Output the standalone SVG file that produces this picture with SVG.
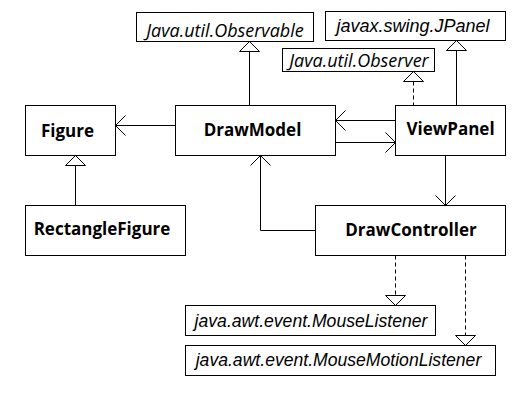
<svg xmlns="http://www.w3.org/2000/svg" width="531" height="411" viewBox="0 0 531 411">
<style>
.box{fill:#fff;stroke:#000;stroke-width:1}
.cls{font-family:"Open Sans","Liberation Sans",sans-serif;font-weight:bold;font-size:17px;text-anchor:middle;fill:#000}
.ifc{font-family:"Open Sans","Liberation Sans",sans-serif;font-style:italic;font-size:18px;text-anchor:middle;fill:#000}
.ifa{font-family:"Liberation Sans",Arial,sans-serif;font-style:italic;text-anchor:middle;fill:#000}
.ln{fill:none;stroke:#000;stroke-width:1}
.dash{fill:none;stroke:#000;stroke-width:1;stroke-dasharray:4,3}
.tri{fill:#fff;stroke:#000;stroke-width:1}
</style>
<rect width="531" height="411" fill="#fff"/>
<g id="connectors">
  <line class="ln" x1="249.5" y1="51.5" x2="249.5" y2="105.5"/>
  <polygon class="tri" points="249.5,41.5 239.5,51.5 259.5,51.5"/>
  <line class="ln" x1="456.5" y1="50.5" x2="456.5" y2="105.5"/>
  <polygon class="tri" points="456.5,40.5 446.5,50.5 466.5,50.5"/>
  <line class="dash" x1="413.5" y1="81.5" x2="413.5" y2="105.5"/>
  <polygon class="tri" points="413.5,71.5 403.5,81.5 423.5,81.5"/>
  <line class="ln" x1="75.5" y1="165.5" x2="75.5" y2="205.5"/>
  <polygon class="tri" points="75.5,155.5 65.5,165.5 85.5,165.5"/>
  <line class="dash" x1="395.5" y1="255.5" x2="395.5" y2="295.5"/>
  <polygon class="tri" points="395.5,305.5 385.5,295.5 405.5,295.5"/>
  <line class="dash" x1="465.5" y1="255.5" x2="465.5" y2="335.5"/>
  <polygon class="tri" points="465.5,345.5 455.5,335.5 475.5,335.5"/>
  <line class="ln" x1="175.5" y1="125.5" x2="115.5" y2="125.5"/>
  <polyline class="ln" points="125.5,115.5 115.5,125.5 125.5,135.5"/>
  <line class="ln" x1="395.5" y1="120.5" x2="335.5" y2="120.5"/>
  <polyline class="ln" points="345.5,110.5 335.5,120.5 345.5,130.5"/>
  <line class="ln" x1="335.5" y1="142.5" x2="395.5" y2="142.5"/>
  <polyline class="ln" points="385.5,132.5 395.5,142.5 385.5,152.5"/>
  <line class="ln" x1="445.5" y1="155.5" x2="445.5" y2="205.5"/>
  <polyline class="ln" points="435.5,195.5 445.5,205.5 455.5,195.5"/>
  <polyline class="ln" points="315.5,230.5 260.5,230.5 260.5,155.5"/>
  <polyline class="ln" points="250.5,165.5 260.5,155.5 270.5,165.5"/>
</g>
<g id="observable">
  <rect class="box" x="136.5" y="12.5" width="177" height="29"/>
  <text class="ifc" x="225" y="37">Java.util.Observable</text>
</g>
<g id="jpanel">
  <rect class="box" x="325.5" y="11.5" width="180" height="29"/>
  <text class="ifa" x="413" y="32" font-size="18">javax.swing.JPanel</text>
</g>
<g id="observer">
  <rect class="box" x="282.5" y="48.5" width="152" height="23"/>
  <text class="ifc" x="359" y="67">Java.util.Observer</text>
</g>
<g id="figure">
  <rect class="box" x="25.5" y="105.5" width="90" height="50"/>
  <text class="cls" x="67.5" y="136.5">Figure</text>
</g>
<g id="drawmodel">
  <rect class="box" x="175.5" y="105.5" width="160" height="50"/>
  <text class="cls" x="252.5" y="136">DrawModel</text>
</g>
<g id="viewpanel">
  <rect class="box" x="395.5" y="105.5" width="110" height="50"/>
  <text class="cls" x="450.5" y="135">ViewPanel</text>
</g>
<g id="rectanglefigure">
  <rect class="box" x="25.5" y="205.5" width="160" height="50"/>
  <text class="cls" x="102" y="235">RectangleFigure</text>
</g>
<g id="drawcontroller">
  <rect class="box" x="315.5" y="205.5" width="190" height="50"/>
  <text class="cls" x="411" y="235.5">DrawController</text>
</g>
<g id="mouselistener">
  <rect class="box" x="185.5" y="305.5" width="250" height="30"/>
  <text class="ifa" x="311" y="327" font-size="17.6">java.awt.event.MouseListener</text>
</g>
<g id="mousemotionlistener">
  <rect class="box" x="185.5" y="345.5" width="310" height="30"/>
  <text class="ifa" x="338.5" y="366" font-size="17.6">java.awt.event.MouseMotionListener</text>
</g>
</svg>
